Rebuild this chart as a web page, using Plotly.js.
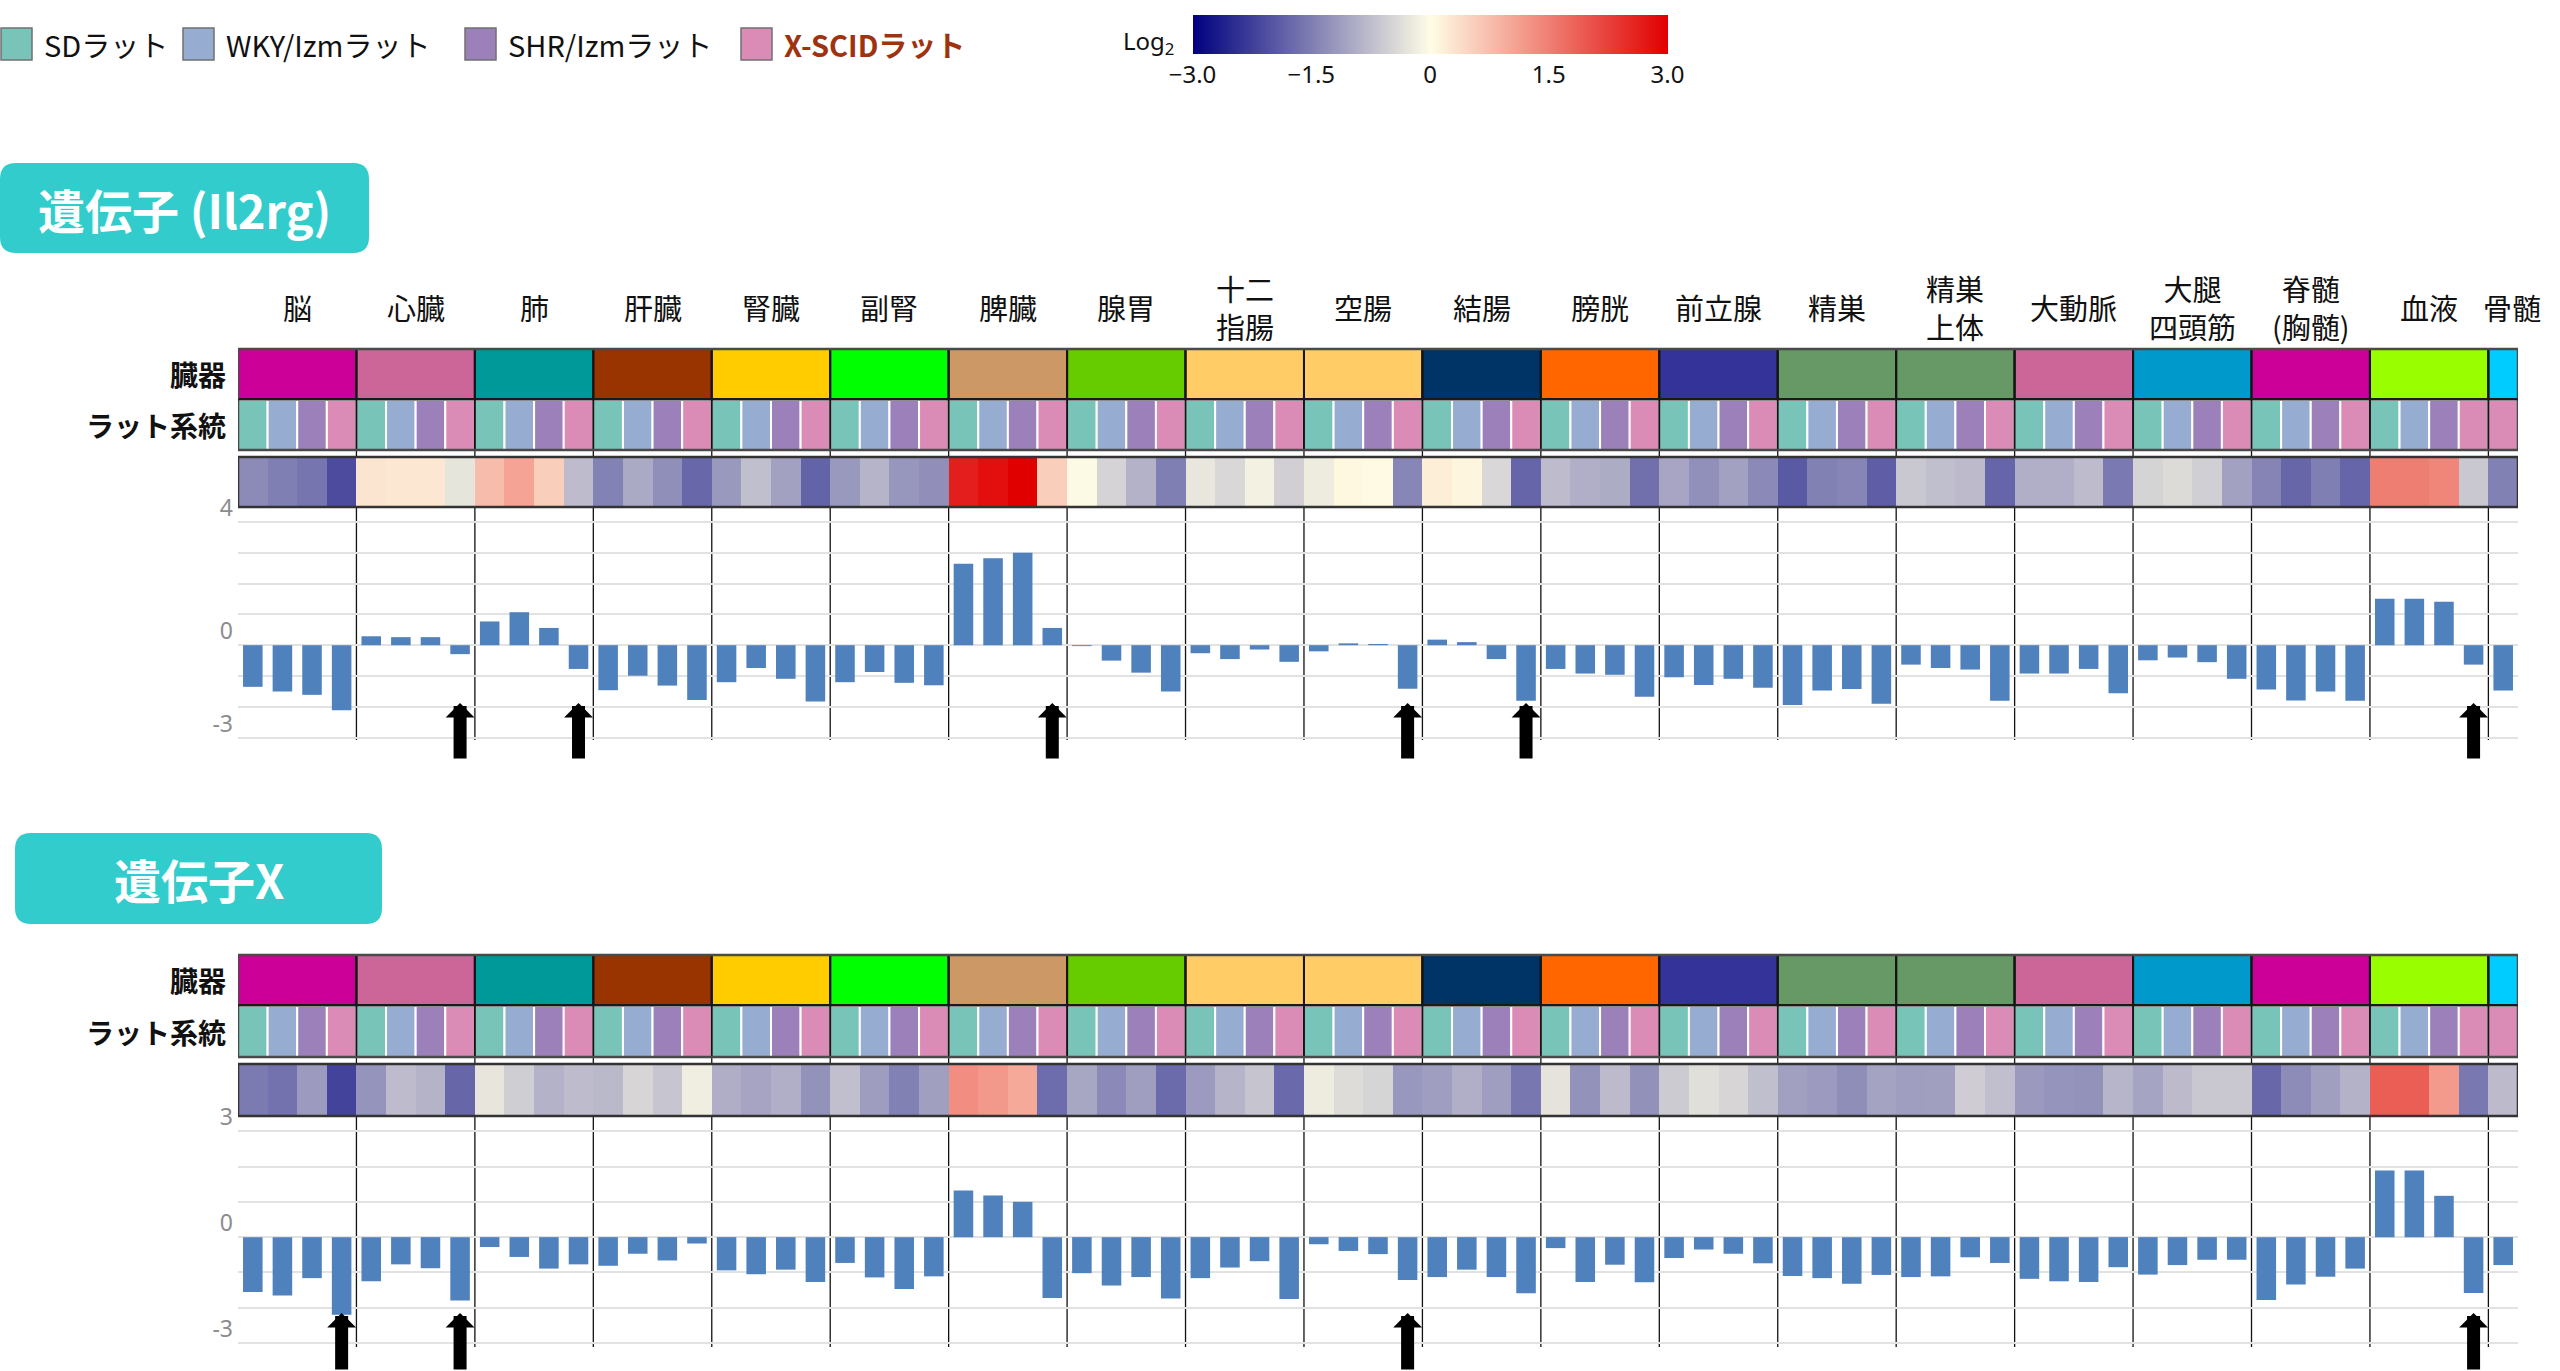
<!DOCTYPE html>
<html><head><meta charset="utf-8">
<script src="https://cdn.plot.ly/plotly-3.0.1.min.js"></script>
<style>html,body{margin:0;padding:0;background:#fff;}#chart{width:2560px;height:1371px;}</style>
</head><body><div id="chart"></div>
<script>
// ---------------- DATA ----------------
const organs = ['脳','心臓','肺','肝臓','腎臓','副腎','脾臓','腺胃','十二指腸','空腸','結腸','膀胱','前立腺','精巣','精巣上体','大動脈','大腿四頭筋','脊髄','血液','骨髄'];
const organLabels = ['脳','心臓','肺','肝臓','腎臓','副腎','脾臓','腺胃','十二<br>指腸','空腸','結腸','膀胱','前立腺','精巣','精巣<br>上体','大動脈','大腿<br>四頭筋','脊髄<br>(胸髄)','血液','骨髄'];
const organColors = ['#CC0099','#CC6699','#009999','#993300','#FFCC00','#00FF00','#CC9966','#66CC00','#FFCC66','#FFCC66','#003366','#FF6600','#333399','#669966','#669966','#CC6699','#0099CC','#CC0099','#99FF00','#00CCFF'];
const strains = ['SDラット','WKY/Izmラット','SHR/Izmラット','X-SCIDラット'];
const strainColors = ['#78C4B8','#97ACD1','#9C80B9','#DA8CB7'];
// strains measured in each organ (indices into strains); bone marrow only X-SCID
const organStrains = organs.map(o => o === '骨髄' ? [3] : [0,1,2,3]);

// log2 expression, Il2rg (SD, WKY, SHR, X-SCID per organ)
const il2rgValues = [
  -1.35,-1.50,-1.61,-2.11,   // 脳
   0.29, 0.26, 0.26,-0.29,   // 心臓
   0.77, 1.07, 0.56,-0.77,   // 肺
  -1.46,-0.99,-1.31,-1.78,   // 肝臓
  -1.20,-0.74,-1.09,-1.83,   // 腎臓
  -1.20,-0.87,-1.22,-1.30,   // 副腎
   2.64, 2.82, 3.00, 0.56,   // 脾臓
  -0.03,-0.50,-0.89,-1.50,   // 腺胃
  -0.26,-0.45,-0.14,-0.54,   // 十二指腸
  -0.20, 0.06, 0.04,-1.41,   // 空腸
   0.18, 0.10,-0.45,-1.80,   // 結腸
  -0.77,-0.92,-0.96,-1.67,   // 膀胱
  -1.04,-1.29,-1.09,-1.38,   // 前立腺
  -1.94,-1.47,-1.42,-1.90,   // 精巣
  -0.63,-0.74,-0.79,-1.80,   // 精巣上体
  -0.92,-0.92,-0.77,-1.56,   // 大動脈
  -0.49,-0.40,-0.55,-1.09,   // 大腿四頭筋
  -1.44,-1.79,-1.50,-1.80,   // 脊髄
   1.51, 1.51, 1.41,-0.63,   // 血液
  -1.47                      // 骨髄
];
// log2 expression, gene X
const geneXValues = [
  -1.55,-1.65,-1.16,-2.20,
  -1.25,-0.77,-0.88,-1.79,
  -0.28,-0.56,-0.89,-0.77,
  -0.81,-0.47,-0.66,-0.18,
  -0.94,-1.05,-0.92,-1.27,
  -0.73,-1.14,-1.47,-1.11,
   1.32, 1.18, 1.00,-1.72,
  -1.02,-1.37,-1.13,-1.74,
  -1.16,-0.86,-0.68,-1.75,
  -0.20,-0.39,-0.48,-1.21,
  -1.13,-0.92,-1.13,-1.59,
  -0.31,-1.27,-0.78,-1.28,
  -0.59,-0.35,-0.47,-0.74,
  -1.10,-1.16,-1.32,-1.07,
  -1.13,-1.11,-0.57,-0.73,
  -1.18,-1.25,-1.27,-0.85,
  -1.06,-0.79,-0.64,-0.64,
  -1.78,-1.34,-1.12,-0.89,
   1.89, 1.89, 1.17,-1.58,
  -0.79
];
const il2rgArrows = ['心臓','肺','脾臓','空腸','結腸','血液'];
const geneXArrows = ['脳','心臓','空腸','血液'];
const il2rgTickVals = [4,0,-3];
const il2rgTickText = ['4','0','-3'];
const geneXTickVals = [3,0,-3];
const geneXTickText = ['3','0','-3'];
const colorbarTickVals = [-3,-1.5,0,1.5,3];
const colorbarTickText = ['−3.0','−1.5','0','1.5','3.0'];

// ---------------- DERIVED ----------------
const W = 2560, H = 1371;
const px = v => v / W, py = v => 1 - v / H;
const FONT = "'Noto Sans CJK JP','Noto Sans',sans-serif";

const cols = [];
organStrains.forEach((ss, oi) => ss.forEach(si => cols.push({oi, si})));
const colX = cols.map((c, i) => i);
const colColors = cols.map(c => strainColors[c.si]);
const organCenter = [], organWidth = [], organEdges = [];
let k = 0;
organStrains.forEach((ss, i) => {
  organCenter.push(k + (ss.length - 1) / 2);
  organWidth.push(ss.length);
  if (i > 0) organEdges.push(k - 0.5);
  k += ss.length;
});
const xMin = -0.5, xMax = cols.length - 0.5;
const xscidCol = name => cols.findIndex(c => organs[c.oi] === name && c.si === 3);

const colorscale = [[0,'#000080'],[0.5,'#FFFDE6'],[1,'#E00000']];

const sections = [
  {title:'遺伝子 (Il2rg)', values: il2rgValues, arrows: il2rgArrows, tv: il2rgTickVals, tt: il2rgTickText,
   labels:true, box:[0,369,163,253], organ:[349,399], strain:[400,450], heat:[457,507], bar:[508,740],
   range:[-3.075,4.45], tip:703, tail:760, ax:['y','y2','y3','y4']},
  {title:'遺伝子X', values: geneXValues, arrows: geneXArrows, tv: geneXTickVals, tt: geneXTickText,
   labels:false, box:[15,382,833,924], organ:[955,1005], strain:[1006,1057], heat:[1064,1116], bar:[1116,1347],
   range:[-3.11,3.43], tip:1313, tail:1390, ax:['y5','y6','y7','y8']}
];

const traces = [], shapes = [], annotations = [];
const layout = {
  width: W, height: H, autosize:false,
  margin:{l:0,r:0,t:0,b:0,pad:0},
  paper_bgcolor:'#fff', plot_bgcolor:'rgba(0,0,0,0)',
  font:{family:FONT, color:'#111'},
  showlegend:false, barmode:'overlay',
  xaxis:{domain:[px(238), px(2518)], range:[xMin, xMax], visible:false, fixedrange:true}
};

function rounded(x0,x1,y0,y1,r){
  const X = v => px(v).toFixed(5), Y = v => py(v).toFixed(5);
  return `M${X(x0+r)},${Y(y0)} L${X(x1-r)},${Y(y0)} Q${X(x1)},${Y(y0)} ${X(x1)},${Y(y0+r)} L${X(x1)},${Y(y1-r)} Q${X(x1)},${Y(y1)} ${X(x1-r)},${Y(y1)} L${X(x0+r)},${Y(y1)} Q${X(x0)},${Y(y1)} ${X(x0)},${Y(y1-r)} L${X(x0)},${Y(y0+r)} Q${X(x0)},${Y(y0)} ${X(x0+r)},${Y(y0)} Z`;
}

sections.forEach((s, si) => {
  const [ayO, ayS, ayH, ayB] = s.ax;
  const key = a => 'yaxis' + a.slice(1);
  layout[key(ayO)] = {domain:[py(s.organ[1]), py(s.organ[0])], range:[0,1], visible:false, anchor:'x', fixedrange:true};
  layout[key(ayS)] = {domain:[py(s.strain[1]), py(s.strain[0])], range:[0,1], visible:false, anchor:'x', fixedrange:true};
  layout[key(ayH)] = {domain:[py(s.heat[1]), py(s.heat[0])], range:[-0.5,0.5], visible:false, anchor:'x', fixedrange:true};
  layout[key(ayB)] = {domain:[py(s.bar[1]), py(s.bar[0])], range:s.range, anchor:'x', fixedrange:true,
    tickvals:s.tv, ticktext:s.tt, ticks:'', showgrid:true, gridcolor:'#E2E2E2', gridwidth:2, zeroline:false,
    minor:{dtick:1, tick0:0, showgrid:true, gridcolor:'#E2E2E2', gridwidth:2, ticks:''},
    tickfont:{size:23, color:'#8C8C8C', family:"'Noto Sans',sans-serif"}, ticklabelshift:-14, ticklabelstandoff:4, showline:false};

  // organ row
  traces.push({type:'bar', x:organCenter, y:organCenter.map(()=>1), base:0, width:organWidth,
    marker:{color:organColors, line:{color:'#1A1A1A', width:2}}, xaxis:'x', yaxis:ayO, hoverinfo:'skip'});
  // strain row
  traces.push({type:'bar', x:colX, y:colX.map(()=>1), base:0, width:1,
    marker:{color:colColors, line:{color:'#FFFFFF', width:2}}, xaxis:'x', yaxis:ayS, hoverinfo:'skip'});
  // heatmap row
  const hm = {type:'heatmap', x:colX, y:[0], z:[s.values], zmin:-3, zmax:3, colorscale:colorscale,
    xaxis:'x', yaxis:ayH, hoverinfo:'skip', showscale: si === 0};
  if (si === 0) {
    hm.colorbar = {orientation:'h', lenmode:'pixels', len:475, thicknessmode:'pixels', thickness:39,
      x:px(1430), xanchor:'center', y:py(15), yanchor:'top', xpad:0, ypad:0,
      tickvals:colorbarTickVals, ticktext:colorbarTickText, ticks:'', outlinewidth:0,
      tickfont:{size:24, color:'#111', family:"'Noto Sans',sans-serif"}};
  }
  traces.push(hm);
  // value bars
  traces.push({type:'bar', x:colX, y:s.values, width:0.66, marker:{color:'#4F81BD', line:{width:0}},
    xaxis:'x', yaxis:ayB, hoverinfo:'skip'});

  // separators
  organEdges.forEach(e => {
    shapes.push({type:'line', xref:'x', yref:'paper', x0:e, x1:e, y0:py(s.organ[0]), y1:py(s.strain[1]),
      line:{color:'#141414', width:2}, layer:'above'});
    shapes.push({type:'line', xref:'x', yref:'paper', x0:e, x1:e, y0:py(s.strain[1]), y1:py(s.bar[1]),
      line:{color:'#111', width:1.3}, layer:'below'});
  });
  // borders
  shapes.push({type:'rect', xref:'x', yref:'paper', x0:xMin, x1:xMax, y0:py(s.organ[0]), y1:py(s.strain[1]),
    line:{color:'#4A4A4A', width:2.5}, layer:'above'});
  shapes.push({type:'line', xref:'x', yref:'paper', x0:xMin, x1:xMax, y0:py(s.organ[1]+0.5), y1:py(s.organ[1]+0.5),
    line:{color:'#1A1A1A', width:2}, layer:'above'});
  shapes.push({type:'rect', xref:'x', yref:'paper', x0:xMin, x1:xMax, y0:py(s.heat[0]), y1:py(s.heat[1]),
    line:{color:'#333', width:2.5}, layer:'above'});
  // title box
  shapes.push({type:'path', xref:'paper', yref:'paper', path:rounded(s.box[0], s.box[1], s.box[2], s.box[3], 16),
    fillcolor:'#33CCCC', line:{width:0}, layer:'above'});
  annotations.push({xref:'paper', yref:'paper', x:px((s.box[0]+s.box[1])/2), y:py((s.box[2]+s.box[3])/2),
    text:'<b>'+s.title+'</b>', showarrow:false, xanchor:'center', yanchor:'middle',
    font:{size:47, color:'#FFFFFF', family:FONT}});
  // row labels
  annotations.push({xref:'paper', yref:'paper', x:px(228), y:py((s.organ[0]+s.organ[1])/2), text:'<b>臓器</b>',
    showarrow:false, xanchor:'right', yanchor:'middle', font:{size:28, color:'#111'}});
  annotations.push({xref:'paper', yref:'paper', x:px(228), y:py((s.strain[0]+s.strain[1])/2), text:'<b>ラット系統</b>',
    showarrow:false, xanchor:'right', yanchor:'middle', font:{size:28, color:'#111'}});
  // organ labels
  if (s.labels) {
    organLabels.forEach((t, i) => annotations.push({xref:'x', yref:'paper', x:organCenter[i], y:py(307),
      text:t, showarrow:false, xanchor:'center', yanchor:'middle', xshift: organWidth[i] === 1 ? 9 : 0,
      font:{size:29, color:'#111'}}));
  }
  // arrows
  s.arrows.forEach(name => annotations.push({xref:'x', yref:'paper', x:xscidCol(name), y:py(s.tip),
    ax:0, ay:s.tail - s.tip, text:'', showarrow:true, arrowhead:1, arrowsize:0.37, arrowwidth:13,
    arrowcolor:'#000', standoff:0}));
});

// legend
const legendSquareX = [0, 182, 464, 740];
strains.forEach((name, i) => {
  shapes.push({type:'rect', xref:'paper', yref:'paper', x0:px(legendSquareX[i]+1), x1:px(legendSquareX[i]+32),
    y0:py(28), y1:py(60), fillcolor:strainColors[i], line:{color:'#707070', width:1.5}, layer:'above'});
  const isX = i === 3;
  annotations.push({xref:'paper', yref:'paper', x:px(legendSquareX[i]+42), y:py(44),
    text: isX ? '<b>'+name+'</b>' : name, showarrow:false, xanchor:'left', yanchor:'middle',
    font:{size:29, color: isX ? '#A0330F' : '#111'}});
});
annotations.push({xref:'paper', yref:'paper', x:px(1176), y:py(42), text:'Log<sub>2</sub>', showarrow:false,
  xanchor:'right', yanchor:'middle', font:{size:24, color:'#111', family:"'Noto Sans',sans-serif"}});

layout.shapes = shapes;
layout.annotations = annotations;

Plotly.newPlot('chart', traces, layout, {displayModeBar:false, staticPlot:true});
</script>
</body></html>
